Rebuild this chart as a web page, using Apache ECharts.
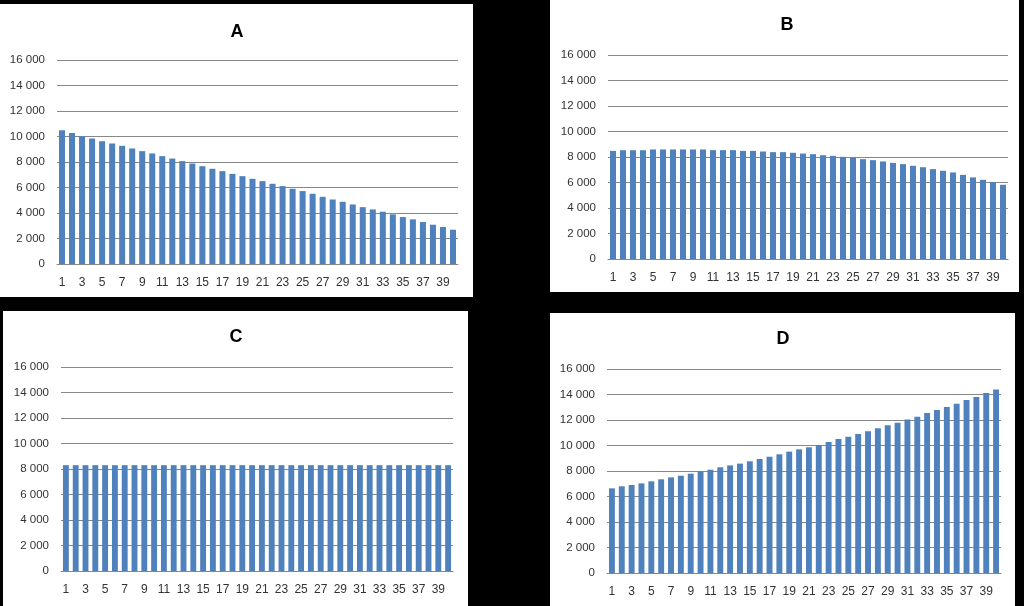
<!DOCTYPE html>
<html>
<head>
<meta charset="utf-8">
<script src="https://cdn.jsdelivr.net/npm/echarts@6/dist/echarts.min.js"></script>
<style>
html,body{margin:0;padding:0;background:#000;}
#main{width:1024px;height:606px;}
</style>
</head>
<body>
<div id="main"></div>
<script>
const categories = Array.from({length: 40}, (_, i) => String(i + 1));
const titles = ['A', 'B', 'C', 'D'];
const seriesA = [10490, 10280, 10020, 9840, 9630, 9450, 9270, 9060, 8850, 8670,
  8460, 8270, 8070, 7880, 7670, 7470, 7280, 7070, 6890, 6680,
  6500, 6290, 6110, 5900, 5720, 5510, 5270, 5060, 4880, 4670,
  4460, 4280, 4100, 3890, 3680, 3500, 3290, 3080, 2900, 2690];
const seriesB = [8480, 8530, 8530, 8530, 8590, 8590, 8590, 8590, 8590, 8590,
  8540, 8540, 8540, 8480, 8480, 8430, 8380, 8380, 8330, 8270,
  8220, 8140, 8090, 8010, 7960, 7830, 7750, 7650, 7540, 7440,
  7310, 7200, 7050, 6920, 6790, 6600, 6400, 6210, 6030, 5820];
const seriesC = [8300, 8300, 8300, 8300, 8300, 8300, 8300, 8300, 8300, 8300,
  8300, 8300, 8300, 8300, 8300, 8300, 8300, 8300, 8300, 8300,
  8300, 8300, 8300, 8300, 8300, 8300, 8300, 8300, 8300, 8300,
  8300, 8300, 8300, 8300, 8300, 8300, 8300, 8300, 8300, 8300];
const seriesD = [6640, 6800, 6900, 7030, 7190, 7350, 7500, 7630, 7790, 7970,
  8100, 8290, 8440, 8580, 8760, 8940, 9120, 9310, 9520, 9700,
  9860, 10040, 10270, 10510, 10690, 10900, 11110, 11350, 11580, 11790,
  12030, 12260, 12550, 12780, 13020, 13280, 13570, 13800, 14120, 14400];
const yTicks = [0, 2000, 4000, 6000, 8000, 10000, 12000, 14000, 16000];

const allSeries = [seriesA, seriesB, seriesC, seriesD];

// layout (positions only)
const panels = [
  {x: 0, y: 4, w: 473, h: 293},
  {x: 550, y: 0, w: 469, h: 292},
  {x: 3, y: 311, w: 465, h: 295},
  {x: 550, y: 313, w: 465, h: 293}
];
const grids = [
  {left: 57, top: 60, width: 401, height: 204},
  {left: 608, top: 55, width: 400, height: 204},
  {left: 61, top: 367, width: 392, height: 204},
  {left: 607, top: 369, width: 394, height: 204}
];
const titlePos = [
  {x: 237, y: 32}, {x: 787, y: 25}, {x: 236, y: 337}, {x: 783, y: 339}
];

const fmt = v => String(v).replace(/\B(?=(\d{3})+(?!\d))/g, ' ');
const font = 'Liberation Sans';
const gridColor = '#878787';

const option = {
  backgroundColor: '#000',
  animation: false,
  graphic: panels.map(p => ({
    type: 'rect', z: -10, silent: true,
    shape: {x: p.x, y: p.y, width: p.w, height: p.h},
    style: {fill: '#fff'}
  })).concat(titles.map((t, i) => ({
    type: 'text', z: 10, silent: true,
    x: titlePos[i].x, y: titlePos[i].y,
    style: {text: t, fontFamily: font, fontWeight: 'bold', fontSize: 18, fill: '#000',
      align: 'center', verticalAlign: 'middle'}
  }))),
  grid: grids.map(g => Object.assign({containLabel: false}, g)),
  xAxis: grids.map((g, i) => ({
    type: 'category', gridIndex: i, data: categories,
    axisTick: {show: false},
    axisLine: {lineStyle: {color: gridColor, width: 1}},
    axisLabel: {interval: 1, margin: 13, color: '#333', fontFamily: font, fontSize: 12}
  })),
  yAxis: grids.map((g, i) => ({
    type: 'value', gridIndex: i, min: yTicks[0], max: yTicks[yTicks.length - 1],
    interval: yTicks[1] - yTicks[0],
    axisLine: {show: false}, axisTick: {show: false},
    splitLine: {lineStyle: {color: gridColor, width: 1}},
    axisLabel: {margin: 12, color: '#333', fontFamily: font, fontSize: 11.5, formatter: fmt}
  })),
  series: allSeries.map((d, i) => ({
    type: 'bar', xAxisIndex: i, yAxisIndex: i, data: d,
    barWidth: '60%',
    itemStyle: {color: '#4F81BD'}
  }))
};

const chart = echarts.init(document.getElementById('main'), null, {renderer: 'canvas'});
chart.setOption(option);
</script>
</body>
</html>
